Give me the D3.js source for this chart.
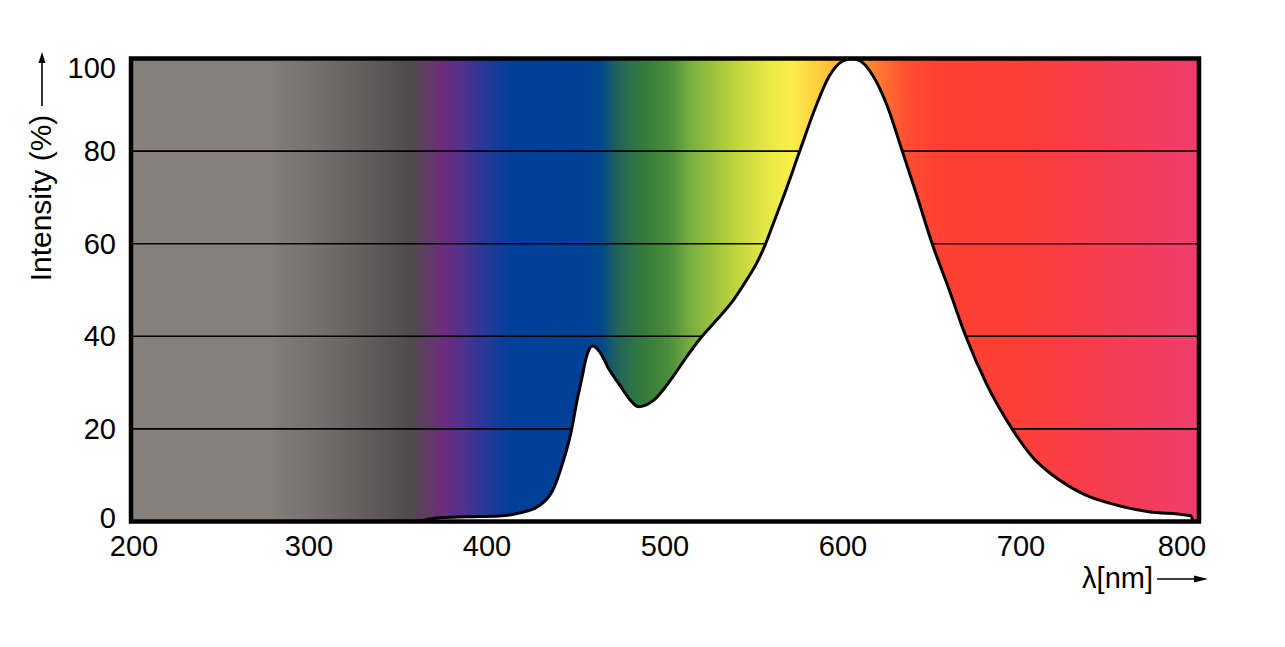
<!DOCTYPE html>
<html>
<head>
<meta charset="utf-8">
<script src="https://cdn.jsdelivr.net/npm/d3@7"></script>
<style>
  body { margin: 0; background: #fff; }
  text { font-family: "Liberation Sans", Arial, sans-serif; fill: #000; }
</style>
</head>
<body>
<div id="chart"></div>
<script>
// spectrum (nm, %)
var wavelengths = [200, 360, 366, 373, 389, 407, 418, 430, 437, 442.5, 447.5, 450.3, 453.1, 455.9, 459.3,
  463.2, 468.8, 474.5, 480.1, 485, 493, 504.5, 512.2, 520.6, 529, 538.4, 545.9, 551.5, 556.2, 560.9,
  566.5, 575.7, 584.8, 592.3, 599.6, 605.2, 610, 616.5, 624.1, 633.3, 641, 650.1, 659.7, 669, 680.3,
  695, 706.3, 721.4, 736.4, 753.2, 771.9, 792.5, 795.5, 796.5];
var intensities = [0, 0, 0.4, 0.8, 1.0, 1.2, 1.8, 3.6, 6.8, 12.6, 19.8, 25.6, 30.6, 35.6, 37.9,
  36.7, 32.7, 29.5, 26.4, 24.8, 26.0, 31.3, 35.6, 39.9, 43.5, 47.8, 52.2, 55.8, 59.7, 64.4,
  70.1, 80, 89.7, 96.2, 99.4, 100, 99.4, 96.5, 90.5, 80, 71, 60, 50, 40, 30,
  20, 14, 9, 5.7, 3.6, 2.1, 1.4, 1.2, 0];

var xTicks = [200, 300, 400, 500, 600, 700, 800];
var yTicks = [0, 20, 40, 60, 80, 100];
var gridValues = [20, 40, 60, 80];

// background colour bands (nm -> colour)
var bandStops = [200, 279, 284, 300, 330, 357, 368, 375, 385, 396, 414, 455, 464, 472, 482, 492, 502,
  515, 540, 555, 571, 585, 600, 613, 625, 635, 652, 700, 740, 800];
var bandColors = ["#877f7c", "#867f7c", "#7e7b76", "#787272", "#655e5f", "#4f4a4c", "#623a68", "#6c2c7b",
  "#55308c", "#2f3797", "#003f9a", "#004196", "#00478e", "#1f6060", "#2e7246", "#3a8038", "#4a8c3a",
  "#7ab040", "#c0d43d", "#e2e645", "#fbef4a", "#fdd040", "#feb038", "#fe8a35", "#ff6a32", "#ff5030",
  "#fe4130", "#fd3f38", "#f73d4c", "#ef3e6d"];

var width = 1285, height = 647;
var svg = d3.select("#chart").append("svg")
  .attr("width", width)
  .attr("height", height);

var x = d3.scaleLinear().domain([200, 800]).range([131, 1199]);
var y = d3.scaleLinear().domain([0, 100]).range([521.5, 58.5]);

var data = wavelengths.map(function(w, i) { return {w: w, v: intensities[i]}; });

// gradient
var defs = svg.append("defs");
var grad = defs.append("linearGradient")
  .attr("id", "spectrum")
  .attr("gradientUnits", "userSpaceOnUse")
  .attr("x1", x(200)).attr("x2", x(800))
  .attr("y1", 0).attr("y2", 0);
grad.selectAll("stop")
  .data(bandStops)
  .enter().append("stop")
  .attr("offset", function(d) { return (x(d) - x(200)) / (x(800) - x(200)); })
  .attr("stop-color", function(d, i) { return bandColors[i]; });

svg.append("rect")
  .attr("x", x(200)).attr("y", y(100))
  .attr("width", x(800) - x(200)).attr("height", y(0) - y(100))
  .attr("fill", "url(#spectrum)");

// grid lines
svg.append("g").selectAll("line")
  .data(gridValues)
  .enter().append("line")
  .attr("x1", x(200)).attr("x2", x(800))
  .attr("y1", function(d) { return y(d); })
  .attr("y2", function(d) { return y(d); })
  .attr("stroke", "#000")
  .attr("stroke-width", 1.6);

// area under the spectrum is white
var curve = d3.curveMonotoneX;
svg.append("path")
  .datum(data)
  .attr("fill", "#fff")
  .attr("d", d3.area()
    .x(function(d) { return x(d.w); })
    .y0(y(0))
    .y1(function(d) { return y(d.v); })
    .curve(curve));

svg.append("path")
  .datum(data)
  .attr("fill", "none")
  .attr("stroke", "#000")
  .attr("stroke-width", 3)
  .attr("stroke-linejoin", "round")
  .attr("d", d3.line()
    .x(function(d) { return x(d.w); })
    .y(function(d) { return y(d.v); })
    .curve(curve));

// frame
svg.append("rect")
  .attr("x", x(200)).attr("y", y(100))
  .attr("width", x(800) - x(200)).attr("height", y(0) - y(100))
  .attr("fill", "none")
  .attr("stroke", "#000")
  .attr("stroke-width", 4.5);

// y tick labels (end ones nudged inward)
svg.append("g").selectAll("text")
  .data(yTicks)
  .enter().append("text")
  .attr("x", 116)
  .attr("y", function(d) { return y(d) + (d == 100 ? 9 : d == 0 ? -4 : 0); })
  .attr("dy", "0.35em")
  .attr("text-anchor", "end")
  .attr("font-size", 29)
  .text(function(d) { return d; });

// x tick labels
svg.append("g").selectAll("text")
  .data(xTicks)
  .enter().append("text")
  .attr("x", function(d) { return x(d) + (d == 800 ? -17 : d == 200 ? 3 : 0); })
  .attr("y", 556)
  .attr("text-anchor", "middle")
  .attr("font-size", 29)
  .text(function(d) { return d; });

// axis titles with arrows
svg.append("text")
  .attr("transform", "translate(51,198) rotate(-90)")
  .attr("text-anchor", "middle")
  .attr("font-size", 30)
  .text("Intensity (%)");
svg.append("line")
  .attr("x1", 42).attr("x2", 42)
  .attr("y1", 106).attr("y2", 60)
  .attr("stroke", "#000").attr("stroke-width", 1.6);
svg.append("path")
  .attr("d", "M42,52 L38.5,63 L45.5,63 Z")
  .attr("fill", "#000");

svg.append("text")
  .attr("x", 1153)
  .attr("y", 588)
  .attr("text-anchor", "end")
  .attr("font-size", 29)
  .text("λ[nm]");
svg.append("line")
  .attr("x1", 1157).attr("x2", 1198)
  .attr("y1", 579).attr("y2", 579)
  .attr("stroke", "#000").attr("stroke-width", 1.6);
svg.append("path")
  .attr("d", "M1208,579 L1194,575.5 L1194,582.5 Z")
  .attr("fill", "#000");
</script>
</body>
</html>
